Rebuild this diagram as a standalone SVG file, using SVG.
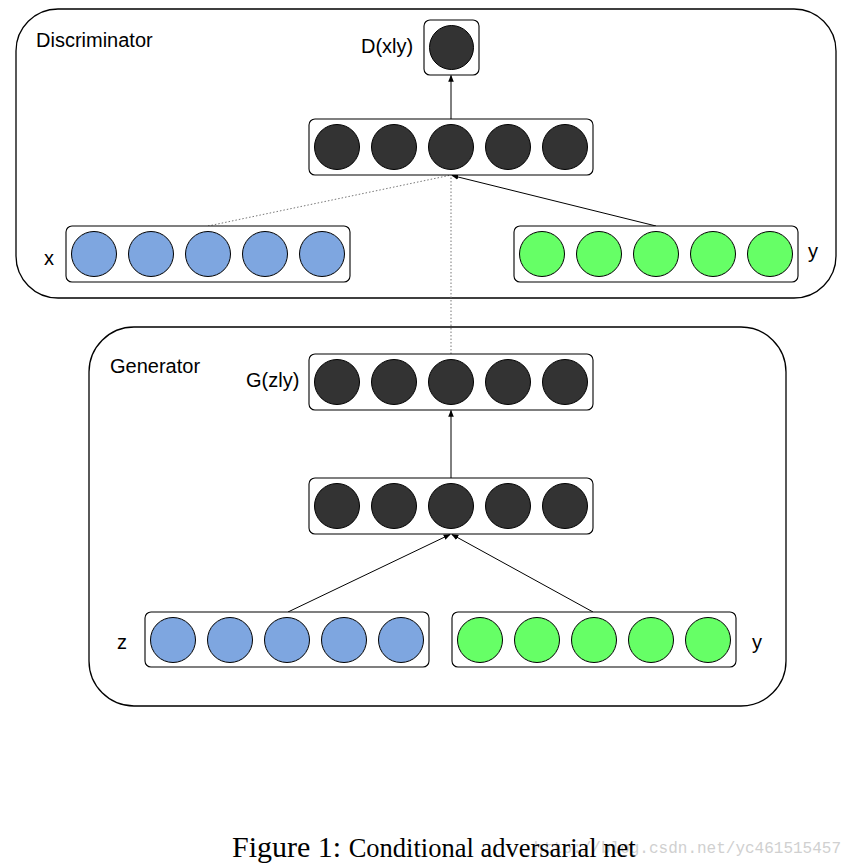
<svg xmlns="http://www.w3.org/2000/svg" width="853" height="866" viewBox="0 0 853 866">
<style>
.outer{fill:none;stroke:#000;stroke-width:1.3}
.box{fill:#fff;stroke:#000;stroke-width:1.1}
.dk{fill:#333333;stroke:#000;stroke-width:1}
.bl{fill:#7ea6e0;stroke:#000;stroke-width:1}
.gr{fill:#66ff66;stroke:#000;stroke-width:1}
.lbl{font-family:"Liberation Sans",Arial,sans-serif;font-size:20px;fill:#000}
.ln{stroke:#000;stroke-width:1;fill:none}
.dot{stroke:#777;stroke-width:1;stroke-dasharray:1.5 2;fill:none}
</style>
<defs>
<marker id="ah" viewBox="0 0 10 10" refX="9" refY="5" markerWidth="7" markerHeight="7" orient="auto" markerUnits="userSpaceOnUse">
<path d="M0,1 L10,5 L0,9 Z" fill="#000"/>
</marker>
</defs>
<rect width="853" height="866" fill="#fff"/>
<g id="discriminator">
<rect class="outer" x="16" y="9" width="820" height="289" rx="42" ry="42"/>
<text class="lbl" x="36" y="47">Discriminator</text>
</g>
<g id="generator">
<rect class="outer" x="89" y="327" width="697" height="379" rx="45" ry="45"/>
<text class="lbl" x="110" y="373">Generator</text>
</g>
<g id="connectors">
<line class="ln" x1="451" y1="119" x2="451" y2="75.5" marker-end="url(#ah)"/>
<line class="dot" x1="208" y1="226" x2="449" y2="175.5"/>
<line class="dot" x1="451" y1="354" x2="451" y2="177"/>
<line class="ln" x1="656" y1="226" x2="452" y2="175.5" marker-end="url(#ah)"/>
<line class="ln" x1="451" y1="478" x2="451" y2="410.5" marker-end="url(#ah)"/>
<line class="ln" x1="288" y1="612" x2="450" y2="534.5" marker-end="url(#ah)"/>
<line class="ln" x1="593" y1="612" x2="452" y2="534.5" marker-end="url(#ah)"/>
</g>
<g id="d_output">
<rect class="box" x="424" y="20" width="55" height="55" rx="6"/>
<circle class="dk" cx="451.5" cy="47.5" r="22"/>
<text class="lbl" x="361" y="53">D(xly)</text>
</g>
<g id="d_hidden">
<rect class="box" x="309" y="119" width="284" height="56" rx="6"/>
<circle class="dk" cx="337" cy="147" r="22.5"/>
<circle class="dk" cx="394" cy="147" r="22.5"/>
<circle class="dk" cx="451" cy="147" r="22.5"/>
<circle class="dk" cx="508" cy="147" r="22.5"/>
<circle class="dk" cx="565" cy="147" r="22.5"/>
</g>
<g id="d_x">
<rect class="box" x="66" y="226" width="284" height="56" rx="6"/>
<circle class="bl" cx="94" cy="254" r="22.5"/>
<circle class="bl" cx="151" cy="254" r="22.5"/>
<circle class="bl" cx="208" cy="254" r="22.5"/>
<circle class="bl" cx="265" cy="254" r="22.5"/>
<circle class="bl" cx="322" cy="254" r="22.5"/>
<text class="lbl" x="44" y="265">x</text>
</g>
<g id="d_y">
<rect class="box" x="514" y="226" width="284" height="56" rx="6"/>
<circle class="gr" cx="542" cy="254" r="22.5"/>
<circle class="gr" cx="599" cy="254" r="22.5"/>
<circle class="gr" cx="656" cy="254" r="22.5"/>
<circle class="gr" cx="713" cy="254" r="22.5"/>
<circle class="gr" cx="770" cy="254" r="22.5"/>
<text class="lbl" x="808" y="258">y</text>
</g>
<g id="g_output">
<rect class="box" x="309" y="354" width="284" height="56" rx="6"/>
<circle class="dk" cx="337" cy="382" r="22.5"/>
<circle class="dk" cx="394" cy="382" r="22.5"/>
<circle class="dk" cx="451" cy="382" r="22.5"/>
<circle class="dk" cx="508" cy="382" r="22.5"/>
<circle class="dk" cx="565" cy="382" r="22.5"/>
<text class="lbl" x="246" y="387">G(zly)</text>
</g>
<g id="g_hidden">
<rect class="box" x="309" y="478" width="284" height="56" rx="6"/>
<circle class="dk" cx="337" cy="506" r="22.5"/>
<circle class="dk" cx="394" cy="506" r="22.5"/>
<circle class="dk" cx="451" cy="506" r="22.5"/>
<circle class="dk" cx="508" cy="506" r="22.5"/>
<circle class="dk" cx="565" cy="506" r="22.5"/>
</g>
<g id="g_z">
<rect class="box" x="145" y="612" width="284" height="55" rx="6"/>
<circle class="bl" cx="173" cy="640" r="22.5"/>
<circle class="bl" cx="230" cy="640" r="22.5"/>
<circle class="bl" cx="287" cy="640" r="22.5"/>
<circle class="bl" cx="344" cy="640" r="22.5"/>
<circle class="bl" cx="401" cy="640" r="22.5"/>
<text class="lbl" x="117" y="649">z</text>
</g>
<g id="g_y">
<rect class="box" x="452" y="612" width="284" height="55" rx="6"/>
<circle class="gr" cx="480" cy="640" r="22.5"/>
<circle class="gr" cx="537" cy="640" r="22.5"/>
<circle class="gr" cx="594" cy="640" r="22.5"/>
<circle class="gr" cx="651" cy="640" r="22.5"/>
<circle class="gr" cx="708" cy="640" r="22.5"/>
<text class="lbl" x="752" y="649">y</text>
</g>
<text x="841" y="853" text-anchor="end" font-family="Liberation Mono,'Courier New',monospace" font-size="16" fill="#d0d0d0">http://blog.csdn.net/yc461515457</text>
<text x="232" y="857" font-family="Liberation Serif,'Times New Roman',serif" fill="#000"><tspan font-size="30">Figure 1: </tspan><tspan font-size="26.5">Conditional adversarial net</tspan></text>
</svg>
